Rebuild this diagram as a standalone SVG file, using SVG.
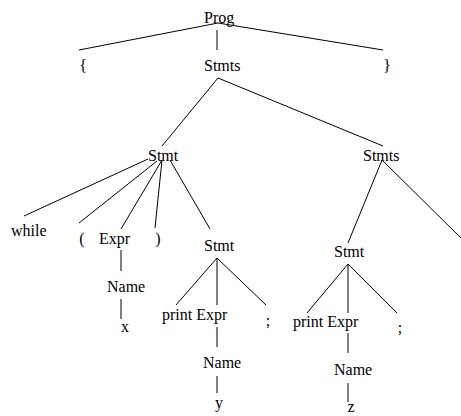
<svg xmlns="http://www.w3.org/2000/svg" width="461" height="416" viewBox="0 0 461 416">
<style>
text{font-family:'Liberation Serif','Times New Roman',serif;font-size:16px;fill:#000}
.e line{stroke:#000;stroke-width:1}
</style>
<rect width="461" height="416" fill="#fff"/>
<g class="e" id="edges">
<line x1="218" y1="23" x2="79" y2="50"/>
<line x1="217" y1="30" x2="217" y2="50"/>
<line x1="218" y1="23" x2="383" y2="50"/>
<line x1="218" y1="78" x2="162" y2="146"/>
<line x1="218" y1="78" x2="383" y2="146"/>
<line x1="148" y1="159" x2="24" y2="216"/>
<line x1="157" y1="161" x2="79" y2="223"/>
<line x1="162" y1="160" x2="121" y2="229"/>
<line x1="162" y1="160" x2="155" y2="228"/>
<line x1="170" y1="160" x2="210" y2="229"/>
<line x1="121" y1="250" x2="121" y2="271"/>
<line x1="121" y1="299" x2="121" y2="319"/>
<line x1="217" y1="258" x2="176" y2="305"/>
<line x1="217" y1="258" x2="217" y2="305"/>
<line x1="217" y1="258" x2="266" y2="305"/>
<line x1="217" y1="327" x2="217" y2="347"/>
<line x1="217" y1="376" x2="217" y2="393"/>
<line x1="382" y1="160" x2="348" y2="243"/>
<line x1="382" y1="160" x2="461" y2="238"/>
<line x1="348" y1="264" x2="307" y2="313"/>
<line x1="348" y1="264" x2="348" y2="313"/>
<line x1="348" y1="264" x2="397" y2="313"/>
<line x1="348" y1="333" x2="348" y2="353"/>
<line x1="348" y1="383" x2="348" y2="402"/>
</g>
<g id="prog"><text x="204" y="23">Prog</text></g>
<g id="lbrace"><text x="83" y="71" text-anchor="middle">{</text></g>
<g id="stmts1"><text x="204" y="71">Stmts</text></g>
<g id="rbrace"><text x="387" y="71" text-anchor="middle">}</text></g>
<g id="stmt1"><text x="148" y="161">Stmt</text></g>
<g id="stmts2"><text x="363" y="161">Stmts</text></g>
<g id="while"><text x="11" y="236">while</text></g>
<g id="lparen"><text x="82" y="244" text-anchor="middle">(</text></g>
<g id="expr1"><text x="99" y="244">Expr</text></g>
<g id="rparen"><text x="158" y="244" text-anchor="middle">)</text></g>
<g id="name1"><text x="107" y="292">Name</text></g>
<g id="x"><text x="125" y="332" text-anchor="middle">x</text></g>
<g id="stmt2"><text x="204" y="251">Stmt</text></g>
<g id="printexpr1"><text x="162" y="320">print Expr</text></g>
<g id="semi1"><text x="268" y="326" text-anchor="middle">;</text></g>
<g id="name2"><text x="203" y="368">Name</text></g>
<g id="y"><text x="219" y="408" text-anchor="middle">y</text></g>
<g id="stmt3"><text x="334" y="257">Stmt</text></g>
<g id="printexpr2"><text x="293" y="327">print Expr</text></g>
<g id="semi2"><text x="400" y="333" text-anchor="middle">;</text></g>
<g id="name3"><text x="334" y="375">Name</text></g>
<g id="z"><text x="351" y="412" text-anchor="middle">z</text></g>
</svg>
